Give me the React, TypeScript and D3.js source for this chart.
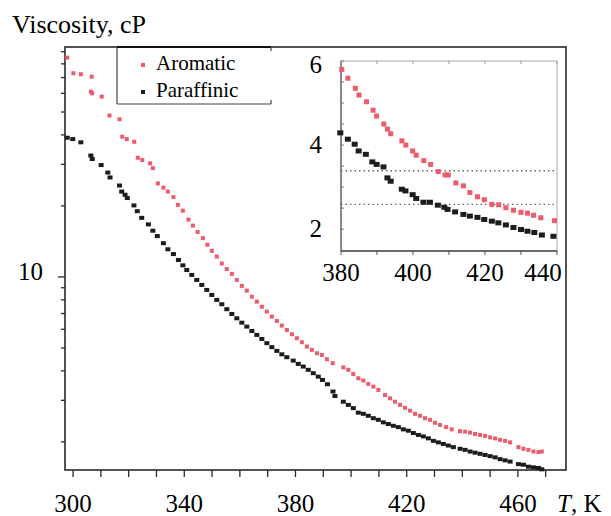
import React, { useEffect, useRef } from 'react';
import * as d3 from 'd3';

// main plot readings: [T (K), viscosity (cP)]
const aromatic = [
  [297.9, 85.0], [300.1, 73.0], [302.8, 72.3], [306.7, 70.6], [306.4, 61.0], [306.9, 60.0],
  [310.3, 58.1], [313.1, 48.3], [316.7, 46.6], [317.7, 39.3], [319.3, 38.4], [322.0, 37.4],
  [323.3, 32.0], [324.9, 31.3], [327.7, 30.3], [328.7, 28.9], [330.5, 24.9], [332.5, 23.9],
  [334.1, 23.0], [336.1, 21.8], [337.7, 20.2], [339.5, 19.1], [341.5, 17.5], [343.1, 16.5],
  [344.8, 15.5], [346.7, 14.6], [348.3, 13.7], [349.9, 12.9], [351.7, 12.2], [353.5, 11.4],
  [355.3, 10.8], [357.1, 10.3], [358.9, 9.71], [360.7, 9.16], [362.5, 8.75], [364.3, 8.25],
  [366.1, 7.86], [367.9, 7.48], [369.7, 7.13], [371.5, 6.79], [373.3, 6.51], [375.1, 6.22],
  [376.9, 5.96], [378.7, 5.72], [380.5, 5.5], [382.3, 5.29], [384.1, 5.07], [385.9, 4.91],
  [387.7, 4.75], [389.5, 4.67], [391.3, 4.48], [393.4, 4.31], [397.2, 4.14], [399.0, 4.04],
  [400.8, 3.88], [402.6, 3.72], [404.4, 3.64], [406.2, 3.52], [408.0, 3.43], [409.8, 3.32],
  [412.2, 3.16], [414.0, 3.06], [415.8, 2.96], [417.6, 2.87], [419.4, 2.79], [421.2, 2.71],
  [423.0, 2.63], [424.8, 2.58], [426.6, 2.52], [428.4, 2.48], [430.2, 2.41], [432.0, 2.36],
  [434.2, 2.31], [436.2, 2.26], [439.2, 2.22], [441.0, 2.21], [442.8, 2.19], [444.6, 2.16],
  [446.4, 2.14], [448.2, 2.12], [450.0, 2.09], [451.8, 2.07], [453.6, 2.04], [455.4, 2.02],
  [457.2, 1.99], [460.2, 1.9], [462.0, 1.87], [463.8, 1.85], [465.6, 1.82], [467.4, 1.81],
  [468.6, 1.82],
];

const paraffinic = [
  [297.9, 38.9], [299.9, 38.4], [302.8, 37.2], [306.4, 32.7], [306.9, 31.6], [310.1, 29.8],
  [312.5, 27.7], [313.3, 26.4], [316.7, 24.4], [317.5, 23.0], [318.7, 22.3], [319.5, 21.6],
  [321.9, 20.1], [323.1, 19.0], [324.7, 17.8], [327.1, 16.7], [328.7, 15.7], [330.3, 14.9],
  [332.5, 13.9], [334.1, 13.1], [336.1, 12.5], [337.9, 11.8], [339.5, 11.2], [340.9, 10.7],
  [342.7, 10.2], [344.5, 9.71], [346.3, 9.25], [348.1, 8.81], [349.9, 8.39], [351.7, 7.99],
  [353.5, 7.66], [355.3, 7.3], [357.1, 6.97], [358.9, 6.68], [360.7, 6.4], [362.5, 6.16],
  [364.3, 5.9], [366.1, 5.68], [367.9, 5.46], [369.7, 5.24], [371.5, 5.04], [373.3, 4.86],
  [375.1, 4.7], [376.9, 4.57], [379.2, 4.42], [381.0, 4.28], [382.8, 4.17], [384.6, 4.04],
  [386.4, 3.91], [388.2, 3.78], [389.7, 3.66], [391.5, 3.51], [393.5, 3.27], [394.2, 3.13],
  [397.2, 2.96], [399.0, 2.87], [400.8, 2.78], [402.6, 2.66], [404.4, 2.63], [406.2, 2.58],
  [408.0, 2.52], [409.8, 2.48], [411.6, 2.42], [413.4, 2.38], [415.2, 2.34], [417.0, 2.31],
  [418.8, 2.26], [420.6, 2.23], [422.4, 2.18], [424.2, 2.14], [426.0, 2.11], [427.8, 2.07],
  [429.6, 2.02], [431.4, 1.99], [433.2, 1.96], [435.0, 1.93], [436.8, 1.9], [439.2, 1.87],
  [441.0, 1.85], [442.8, 1.82], [444.6, 1.8], [446.4, 1.78], [448.2, 1.76], [450.0, 1.74],
  [451.8, 1.72], [453.6, 1.69], [455.4, 1.67], [457.2, 1.65], [460.2, 1.61], [462.0, 1.6],
  [463.8, 1.57], [465.6, 1.56], [467.4, 1.55], [468.6, 1.53],
];

// inset readings (linear axes, 380-440 K)
const insetAromatic = [
  [380.2, 5.8], [381.9, 5.59], [384.0, 5.35], [385.0, 5.19], [387.1, 5.03], [388.9, 4.83],
  [389.9, 4.69], [391.9, 4.5], [392.9, 4.38], [393.8, 4.27], [396.9, 4.1], [398.0, 4.0],
  [399.9, 3.86], [400.9, 3.76], [403.0, 3.63], [404.9, 3.54], [407.0, 3.37], [408.9, 3.29],
  [409.8, 3.29], [411.9, 3.1], [414.0, 3.03], [415.8, 2.87], [417.9, 2.77], [419.8, 2.7],
  [421.9, 2.59], [423.8, 2.58], [425.8, 2.51], [427.9, 2.45], [430.0, 2.4], [431.8, 2.38],
  [433.5, 2.33], [435.5, 2.27], [439.3, 2.2],
];

const insetParaffinic = [
  [379.8, 4.29], [381.9, 4.14], [383.8, 4.02], [384.9, 3.86], [386.9, 3.78], [388.7, 3.6],
  [389.9, 3.54], [391.8, 3.48], [392.9, 3.22], [393.8, 3.14], [396.9, 2.95], [397.9, 2.91],
  [399.9, 2.82], [400.9, 2.73], [402.9, 2.64], [404.7, 2.64], [406.9, 2.57], [408.7, 2.52],
  [409.6, 2.47], [411.7, 2.41], [414.0, 2.35], [415.8, 2.31], [417.9, 2.28], [419.8, 2.23],
  [421.9, 2.19], [423.7, 2.15], [425.8, 2.1], [427.9, 2.04], [430.0, 1.99], [431.8, 1.95],
  [433.7, 1.92], [435.8, 1.86], [439.0, 1.83],
];

const insetRefLines = [3.39, 2.59];

const xTicks = d3.range(300, 471, 10);
const xLabels = [300, 340, 380, 420, 460];
const yTicks = [2, 3, 4, 5, 6, 7, 8, 9, 10, 20, 30, 40, 50, 60, 70, 80, 90];
const yLabels = [10];
const insetXTicks = [380, 390, 400, 410, 420, 430, 440];
const insetXLabels = [380, 400, 420, 440];
const insetYTicks = [2, 2.5, 3, 3.5, 4, 4.5, 5, 5.5, 6];
const insetYLabels = [2, 4, 6];
const seriesNames = ['Aromatic', 'Paraffinic'];

const FONT = '"Liberation Serif", "Times New Roman", serif';
const RED = '#ef5b6c';
const BLACK = '#1c1c1c';

const App = () => {
  const chart = useRef(null);

  useEffect(() => {
    const svg = d3.select(chart.current);
    svg.selectAll('*').remove();

    const plot = { left: 65, right: 566, top: 47, bottom: 470 };
    const x = d3.scaleLinear().domain([297.1, 477.3]).range([plot.left, plot.right]);
    const y = d3.scaleLog().domain([1.52, 94.3]).range([plot.bottom, plot.top]);

    // frame
    svg
      .append('rect')
      .attr('x', plot.left)
      .attr('y', plot.top)
      .attr('width', plot.right - plot.left)
      .attr('height', plot.bottom - plot.top)
      .attr('fill', 'none')
      .attr('stroke', '#2a2a2a')
      .attr('stroke-width', 1.6);

    // y ticks
    svg
      .append('g')
      .selectAll('line')
      .data(yTicks)
      .join('line')
      .attr('x1', (d) => plot.left - (yLabels.includes(d) ? 7 : 4))
      .attr('x2', plot.left)
      .attr('y1', (d) => y(d))
      .attr('y2', (d) => y(d))
      .attr('stroke', '#2a2a2a')
      .attr('stroke-width', 1.3);

    svg
      .append('g')
      .selectAll('text')
      .data(yLabels)
      .join('text')
      .attr('x', 43)
      .attr('y', (d) => y(d) + 3)
      .attr('text-anchor', 'end')
      .style('font', `25px ${FONT}`)
      .text((d) => d);

    // x ticks
    svg
      .append('g')
      .selectAll('line')
      .data(xTicks)
      .join('line')
      .attr('x1', (d) => x(d))
      .attr('x2', (d) => x(d))
      .attr('y1', plot.bottom)
      .attr('y2', plot.bottom + 7)
      .attr('stroke', '#2a2a2a')
      .attr('stroke-width', 1.3);

    svg
      .append('g')
      .selectAll('text')
      .data(xLabels)
      .join('text')
      .attr('x', (d) => x(d))
      .attr('y', 512)
      .attr('text-anchor', 'middle')
      .style('font', `25px ${FONT}`)
      .text((d) => d);

    const xTitle = svg
      .append('text')
      .attr('x', 557)
      .attr('y', 512)
      .style('font', `25px ${FONT}`);
    xTitle.append('tspan').style('font-style', 'italic').text('T');
    xTitle.append('tspan').text(', K');

    svg
      .append('text')
      .attr('x', 12)
      .attr('y', 33)
      .style('font', `26px ${FONT}`)
      .text('Viscosity, cP');

    const drawPoints = (data, xs, ys, color, w, h) => {
      svg
        .append('g')
        .selectAll('rect')
        .data(data)
        .join('rect')
        .attr('x', (d) => xs(d[0]) - w / 2)
        .attr('y', (d) => ys(d[1]) - h / 2)
        .attr('width', w)
        .attr('height', h)
        .attr('fill', color);
    };

    drawPoints(aromatic, x, y, RED, 4, 4);
    drawPoints(paraffinic, x, y, BLACK, 5, 4);

    // legend
    const leg = svg.append('g').attr('stroke', '#444').attr('stroke-width', 1.2);
    leg.append('line').attr('x1', 117).attr('x2', 117).attr('y1', 47).attr('y2', 104);
    leg.append('line').attr('x1', 117).attr('x2', 271).attr('y1', 104).attr('y2', 104);
    leg.append('line').attr('x1', 117).attr('x2', 271).attr('y1', 47).attr('y2', 47).attr('stroke', '#111').attr('stroke-width', 2);
    leg.append('line').attr('x1', 271).attr('x2', 271).attr('y1', 47).attr('y2', 51);
    leg.append('line').attr('x1', 271).attr('x2', 271).attr('y1', 100).attr('y2', 104);

    const legColors = [RED, BLACK];
    seriesNames.forEach((name, i) => {
      const cy = 65 + i * 27;
      svg
        .append('rect')
        .attr('x', 141)
        .attr('y', cy - 2)
        .attr('width', 4)
        .attr('height', 4)
        .attr('fill', legColors[i]);
      svg
        .append('text')
        .attr('x', 156)
        .attr('y', cy + 4.5)
        .style('font', `21px ${FONT}`)
        .text(name);
    });

    // inset
    const ins = { left: 341, right: 557, top: 61, bottom: 251 };
    const ix = d3.scaleLinear().domain([380, 440]).range([ins.left, ins.right]);
    const iy = d3.scaleLinear().domain([1.48, 6.0]).range([ins.bottom, ins.top]);

    svg
      .append('rect')
      .attr('x', ins.left)
      .attr('y', ins.top)
      .attr('width', ins.right - ins.left)
      .attr('height', ins.bottom - ins.top)
      .attr('fill', 'white')
      .attr('stroke', '#aaa')
      .attr('stroke-width', 1);

    svg
      .append('line')
      .attr('x1', ins.left)
      .attr('x2', ins.left)
      .attr('y1', ins.top)
      .attr('y2', ins.bottom)
      .attr('stroke', '#555')
      .attr('stroke-width', 1.2);
    svg
      .append('line')
      .attr('x1', ins.left)
      .attr('x2', ins.right)
      .attr('y1', ins.bottom)
      .attr('y2', ins.bottom)
      .attr('stroke', '#444')
      .attr('stroke-width', 1.4);

    svg
      .append('g')
      .selectAll('line')
      .data(insetYTicks)
      .join('line')
      .attr('x1', ins.left)
      .attr('x2', ins.left + 3)
      .attr('y1', (d) => iy(d))
      .attr('y2', (d) => iy(d))
      .attr('stroke', '#777');

    svg
      .append('g')
      .selectAll('line')
      .data(insetXTicks)
      .join('line')
      .attr('x1', (d) => ix(d))
      .attr('x2', (d) => ix(d))
      .attr('y1', ins.bottom)
      .attr('y2', ins.bottom + 4)
      .attr('stroke', '#555');

    svg
      .append('g')
      .selectAll('line')
      .data(insetXTicks)
      .join('line')
      .attr('x1', (d) => ix(d))
      .attr('x2', (d) => ix(d))
      .attr('y1', ins.top)
      .attr('y2', ins.top + 3)
      .attr('stroke', '#999');

    svg
      .append('g')
      .selectAll('line')
      .data(insetRefLines)
      .join('line')
      .attr('x1', ins.left)
      .attr('x2', ins.right)
      .attr('y1', (d) => iy(d))
      .attr('y2', (d) => iy(d))
      .attr('stroke', '#666')
      .attr('stroke-width', 1.4)
      .attr('stroke-dasharray', '1.5,3');

    // labels kept inside the figure at the inset's top and right edges
    svg
      .append('g')
      .selectAll('text')
      .data(insetYLabels)
      .join('text')
      .attr('x', 322)
      .attr('y', (d) => Math.max(iy(d) + 8, 73))
      .attr('text-anchor', 'end')
      .style('font', `25px ${FONT}`)
      .text((d) => d);

    svg
      .append('g')
      .selectAll('text')
      .data(insetXLabels)
      .join('text')
      .attr('x', (d) => Math.min(ix(d), ins.right - 14))
      .attr('y', 281)
      .attr('text-anchor', 'middle')
      .style('font', `25px ${FONT}`)
      .text((d) => d);

    drawPoints(insetAromatic, ix, iy, RED, 5, 5);
    drawPoints(insetParaffinic, ix, iy, BLACK, 6, 5);
  }, []);

  return (
    <svg
      ref={chart}
      width={611}
      height={516}
      style={{ position: 'absolute', left: 0, top: 0, background: 'white' }}
    />
  );
};

export default App;
